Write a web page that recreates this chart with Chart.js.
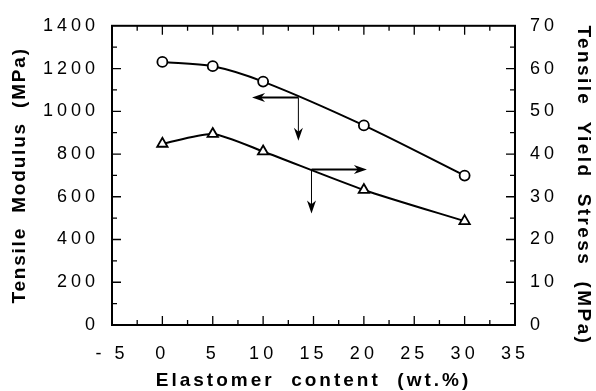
<!DOCTYPE html>
<html>
<head>
<meta charset="utf-8">
<script src="https://cdn.jsdelivr.net/npm/chart.js@4/dist/chart.umd.min.js"></script>
<style>
html, body { margin: 0; padding: 0; background: #fff; }
#wrap { width: 596px; height: 391px; }
</style>
</head>
<body>
<div id="wrap"><canvas id="chart"></canvas></div>
<script>
// elastomer content (wt.%)
const content = [0, 5, 10, 20, 30]
// tensile modulus (MPa), left axis
const modulus = [1231, 1211, 1139, 934, 699]
// tensile yield stress (MPa), right axis
const yieldStress = [42.4, 44.7, 40.6, 31.6, 24.3]

// the arrows telling which curve goes with which axis: [x, y, tipX, tipY]
const modulusArrow = [13.5, 1065, 8.9, 862]
const stressArrow = [14.8, 36.4, 20.3, 26.1]

const FONT = "'Liberation Sans', Arial, sans-serif"
const TICK_SPACING = "4px"
// letter spacing and along-axis shift of each axis title
const titleStyle = { x: ["3px", 0], y: ["1.8px", 0], y2: ["2.4px", 10] }

function arrowHead(ctx, x, y, dx, dy, len, half) {
    // dx,dy = unit direction the arrow points to
    ctx.beginPath()
    ctx.moveTo(x, y)
    ctx.lineTo(x - dx * len - dy * half, y - dy * len + dx * half)
    ctx.lineTo(x - dx * len * 0.7, y - dy * len * 0.7)
    ctx.lineTo(x - dx * len + dy * half, y - dy * len - dx * half)
    ctx.closePath()
    ctx.fill()
}

const framePlugin = {
    id: "frame",
    beforeLayout(chart) {
        chart.ctx.letterSpacing = TICK_SPACING
    },
    beforeDraw(chart) {
        chart.ctx.letterSpacing = TICK_SPACING
    },
    afterLayout(chart) {
        Object.values(chart.scales).forEach(s => {
            if (s._wrapped) return
            const orig = s.drawTitle
            const st = titleStyle[s.id]
            s.drawTitle = function () {
                this.ctx.save()
                this.ctx.letterSpacing = st[0]
                this.ctx.translate(0, st[1])
                orig.apply(this, arguments)
                this.ctx.restore()
            }
            s._wrapped = true
        })
    },
    afterDatasetsDraw(chart) {
        const ctx = chart.ctx
        const a = chart.chartArea
        const xs = chart.scales.x, ys = chart.scales.y, y2 = chart.scales.y2
        ctx.save()
        ctx.letterSpacing = "0px"
        ctx.strokeStyle = "#000"
        ctx.lineWidth = 2
        ctx.strokeRect(a.left, a.top, a.right - a.left, a.bottom - a.top)
        ctx.lineWidth = 1.3
        ctx.beginPath()
        for (let v = -2.5; v < 35; v += 2.5) {
            const px = xs.getPixelForValue(v)
            const l = v % 5 === 0 ? 9 : 5
            ctx.moveTo(px, a.bottom); ctx.lineTo(px, a.bottom - l)
            ctx.moveTo(px, a.top); ctx.lineTo(px, a.top + l)
        }
        for (let v = 100; v < 1400; v += 100) {
            const py = ys.getPixelForValue(v)
            const l = v % 200 === 0 ? 9 : 5
            ctx.moveTo(a.left, py); ctx.lineTo(a.left + l, py)
        }
        for (let v = 5; v < 70; v += 5) {
            const py = y2.getPixelForValue(v)
            const l = v % 10 === 0 ? 9 : 5
            ctx.moveTo(a.right, py); ctx.lineTo(a.right - l, py)
        }
        ctx.stroke()

        // arrows
        ctx.fillStyle = "#000"
        const m = modulusArrow
        let ox = xs.getPixelForValue(m[0]), oy = ys.getPixelForValue(m[1])
        let tx = xs.getPixelForValue(m[2]), ty = ys.getPixelForValue(m[3])
        ctx.lineWidth = 2
        ctx.beginPath(); ctx.moveTo(ox, oy); ctx.lineTo(tx + 8, oy); ctx.stroke()
        arrowHead(ctx, tx, oy, -1, 0, 13, 4.5)
        ctx.lineWidth = 1
        ctx.beginPath(); ctx.moveTo(ox, oy); ctx.lineTo(ox, ty - 8); ctx.stroke()
        arrowHead(ctx, ox, ty, 0, 1, 13, 4.5)

        const s = stressArrow
        ox = xs.getPixelForValue(s[0]); oy = y2.getPixelForValue(s[1])
        tx = xs.getPixelForValue(s[2]); ty = y2.getPixelForValue(s[3])
        ctx.lineWidth = 2
        ctx.beginPath(); ctx.moveTo(ox, oy); ctx.lineTo(tx - 8, oy); ctx.stroke()
        arrowHead(ctx, tx, oy, 1, 0, 13, 4.5)
        ctx.lineWidth = 1
        ctx.beginPath(); ctx.moveTo(ox, oy); ctx.lineTo(ox, ty - 8); ctx.stroke()
        arrowHead(ctx, ox, ty, 0, 1, 13, 4.5)
        ctx.restore()
    }
}

const tickFont = { family: FONT, size: 18 }
const titleFont = { family: FONT, size: 19, weight: "bold" }

new Chart(document.getElementById("chart"), {
    type: "line",
    data: {
        datasets: [{
            label: "Tensile Modulus",
            data: content.map((x, i) => ({ x: x, y: modulus[i] })),
            yAxisID: "y",
            borderColor: "#000",
            borderWidth: 2,
            tension: 0.3,
            pointStyle: "circle",
            pointRadius: 5,
            pointBorderWidth: 1.8,
            pointBackgroundColor: "#fff",
            pointBorderColor: "#000",
        },
        {
            label: "Tensile Yield Stress",
            data: content.map((x, i) => ({ x: x, y: yieldStress[i] })),
            yAxisID: "y2",
            borderColor: "#000",
            borderWidth: 2,
            tension: 0.22,
            pointStyle: "triangle",
            pointRadius: 6,
            pointBorderWidth: 1.8,
            pointBackgroundColor: "#fff",
            pointBorderColor: "#000",
        }]
    },
    options: {
        responsive: true,
        maintainAspectRatio: false,
        animation: false,
        events: [],
        layout: { padding: { top: 21, left: 0, right: 0, bottom: 0 } },
        plugins: { legend: { display: false }, tooltip: { enabled: false } },
        scales: {
            x: {
                type: "linear",
                min: -5, max: 35,
                grid: { display: false, drawTicks: false },
                border: { display: false },
                ticks: {
                    stepSize: 5, color: "#000", font: tickFont, padding: 18,
                    callback: v => v < 0 ? "- " + Math.abs(v) : String(v)
                },
                title: {
                    display: true, text: "Elastomer  content  (wt.%)",
                    color: "#000", font: titleFont, padding: { top: 0, bottom: -1 }
                },
                afterFit: s => { s.height = 66 }
            },
            y: {
                position: "left",
                min: 0, max: 1400,
                grid: { display: false, drawTicks: false },
                border: { display: false },
                ticks: { stepSize: 200, color: "#000", font: tickFont, padding: 13, callback: v => String(v) },
                title: {
                    display: true, text: "Tensile  Modulus  (MPa)",
                    color: "#000", font: titleFont, padding: { top: 8, bottom: 0 }
                },
                afterFit: s => { s.width = 112 }
            },
            y2: {
                position: "right",
                min: 0, max: 70,
                grid: { display: false, drawTicks: false },
                border: { display: false },
                ticks: { stepSize: 10, color: "#000", font: tickFont, padding: 15, callback: v => String(v) },
                title: {
                    display: true, text: "Tensile  Yield  Stress  (MPa)",
                    color: "#000", font: titleFont, padding: { top: 1, bottom: 0 }
                },
                afterFit: s => { s.width = 81 }
            }
        }
    },
    plugins: [framePlugin]
})
</script>
</body>
</html>
